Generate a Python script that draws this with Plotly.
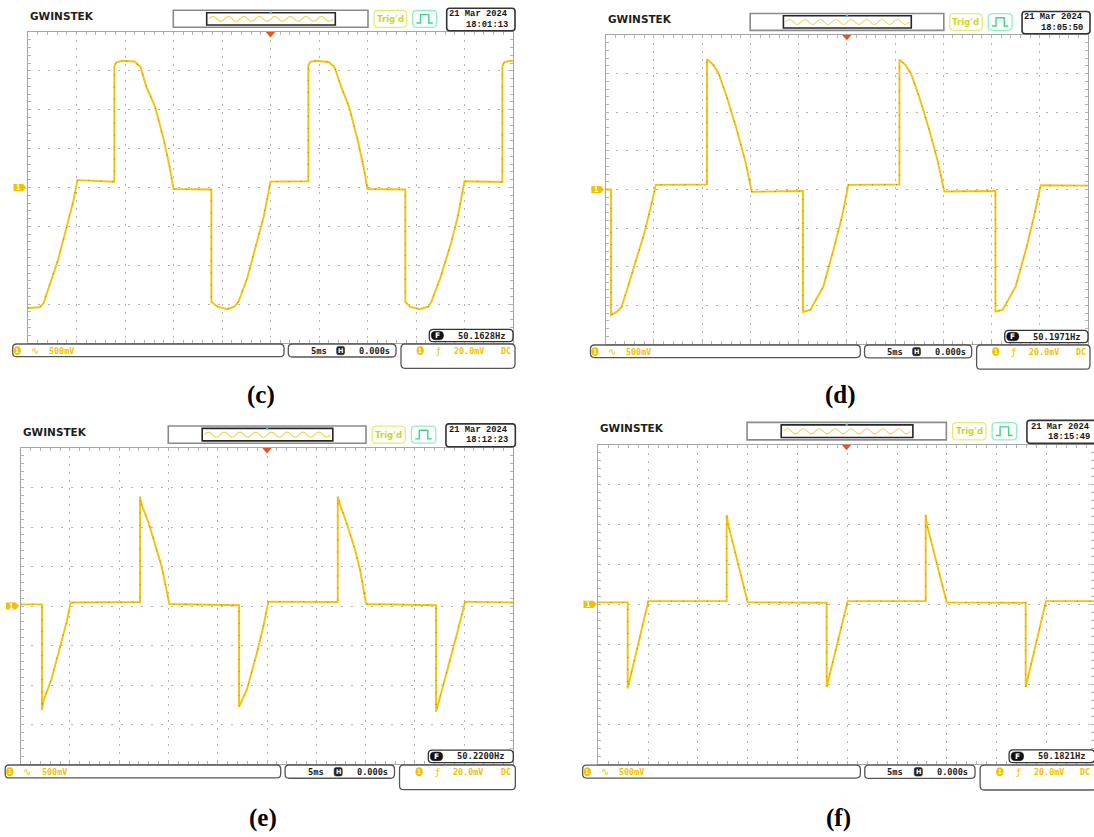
import plotly.graph_objects as go

# ---------------- data (time in ms, voltage in mV) ----------------
t_c = [-25.0, -23.8, -23.4, -22.7, -21.9, -21.0, -20.3, -19.9, -16.1, -16.1, -15.9, -15.3, -14.0, -13.4,
       -12.8, -11.9, -11.0, -10.4, -10.0, -6.1, -6.1, -5.5, -4.5, -3.7, -3.3, -2.4, -1.4, -0.7, 0.0, 3.9,
       3.9, 4.1, 4.7, 6.0, 6.6, 7.3, 8.1, 9.0, 9.6, 10.0, 13.9, 13.9, 14.4, 15.4, 16.3, 16.6, 17.5, 18.6,
       19.3, 20.0, 23.9, 23.9, 24.1, 24.7, 25.0]
v_c = [-1550, -1540, -1490, -1230, -930, -500, -160, 95, 75, 1560, 1610, 1630, 1620, 1550,
       1295, 1040, 610, 265, -20, -25, -1470, -1530, -1565, -1530, -1470, -1165, -715, -375, 75, 80,
       1570, 1615, 1630, 1615, 1550, 1290, 1035, 605, 260, -20, -25, -1470, -1535, -1565, -1530, -1465,
       -1165, -720, -380, 80, 70, 1560, 1610, 1630, 1625]

t_d = [-25.0, -24.45, -24.45, -23.85, -23.35, -22.15, -21.1, -20.4, -19.8, -14.5, -14.5, -13.85, -13.3,
       -12.45, -11.4, -10.55, -9.85, -4.55, -4.55, -3.8, -2.45, -1.4, -0.5, 0.15, 5.45, 5.45, 6.1, 6.65,
       7.5, 8.55, 9.4, 10.1, 15.4, 15.4, 16.15, 17.5, 18.55, 19.4, 20.1, 25.0]
v_d = [0, 0, -1625, -1585, -1520, -1045, -610, -265, 60, 65, 1685, 1615, 1505,
       1200, 770, 380, -30, -20, -1585, -1560, -1260, -785, -350, 60, 65, 1680, 1610, 1500,
       1200, 770, 380, -25, -20, -1580, -1560, -1255, -785, -350, 55, 50]

t_e = [-25.0, -22.84, -22.84, -22.71, -21.85, -21.01, -20.33, -19.92, -12.89, -12.89, -12.72, -12.05,
       -11.37, -10.69, -9.91, -2.84, -2.84, -2.06, -1.04, -0.37, 0.14, 7.18, 7.18, 7.42, 8.1, 8.94, 9.45,
       10.06, 17.16, 17.16, 17.57, 18.41, 19.26, 20.11, 25.0]
v_e = [20, 20, -1315, -1210, -915, -515, -200, 45, 50, 1385, 1280, 1065,
       795, 500, 25, 10, -1275, -1065, -600, -260, 55, 50, 1385, 1280, 1045, 710, 455,
       25, 10, -1340, -1150, -770, -365, 55, 45]

t_f = [-25.0, -22.05, -22.05, -19.98, -12.11, -12.11, -11.95, -10.0, -2.07, -2.07, 0.04, 7.87, 7.87,
       8.0, 9.98, 17.91, 17.91, 19.95, 24.8]
v_f = [25, 25, -1055, 40, 40, 1120, 995, 25, 20, -1035, 40, 40, 1120,
       995, 25, 20, -1035, 40, 40]

series_t = [t_c, t_d, t_e, t_f]
series_v = [v_c, v_d, v_e, v_f]
panel_labels = ["(c)", "(d)", "(e)", "(f)"]
freq_labels = ["50.1628Hz", "50.1971Hz", "50.2200Hz", "50.1821Hz"]
time_labels = ["18:01:13", "18:05:50", "18:12:23", "18:15:49"]
date_label = "21 Mar 2024"
volt_div_label = "500mV"
time_div_label = "5ms"
h_pos_label = "0.000s"
trig_level_label = "20.0mV"
coupling_label = "DC"
brand_label = "GWINSTEK"
trig_state_label = "Trig'd"

# ---------------- geometry (pixels) ----------------
W, H = 1094, 837
# grid box left, top, width, height, visible time end, caption x, caption y, decoration x-scale
GEOM = [
    (28.0, 32.0, 485.0, 311.0, 25.0, 261, 395, 1.0),
    (605.7, 35.0, 482.3, 309.0, 25.0, 840, 395, 482.3 / 485.0),
    (20.7, 448.0, 492.6, 316.0, 25.0, 263, 818, 492.6 / 485.0),
    (598.3, 444.7, 498.0, 319.3, 24.77, 838, 818, 1.0237),
]
XMAX_TEXT = 1092.0

YEL = "#f3c000"
WAVE = "#f5c20a"
GRID = "#b4b4b4"
MONO = "DejaVu Sans Mono"

shapes, annos = [], []


def P(x, y):
    return f"{x / W:.5f},{1 - y / H:.5f}"


def rr_path(x0, y0, x1, y1, r):
    return (f"M{P(x0 + r, y0)} L{P(x1 - r, y0)} Q{P(x1, y0)} {P(x1, y0 + r)} L{P(x1, y1 - r)} "
            f"Q{P(x1, y1)} {P(x1 - r, y1)} L{P(x0 + r, y1)} Q{P(x0, y1)} {P(x0, y1 - r)} "
            f"L{P(x0, y0 + r)} Q{P(x0, y0)} {P(x0 + r, y0)} Z")


def add_rr(a, b, r, color="#555", width=1.3, fill=None):
    shapes.append(dict(type="path", xref="paper", yref="paper", path=rr_path(a[0], a[1], b[0], b[1], r),
                       line=dict(color=color, width=width), fillcolor=fill if fill else "rgba(0,0,0,0)"))


def add_rect(a, b, color, width):
    shapes.append(dict(type="rect", xref="paper", yref="paper", x0=a[0] / W, x1=b[0] / W,
                       y0=1 - a[1] / H, y1=1 - b[1] / H, line=dict(color=color, width=width)))


def add_poly(pts, fill=None, color=None, width=1.4, close=True):
    d = "M" + " L".join(P(x, y) for x, y in pts) + (" Z" if close else "")
    shapes.append(dict(type="path", xref="paper", yref="paper", path=d,
                       fillcolor=fill if fill else "rgba(0,0,0,0)",
                       line=dict(color=color if color else "rgba(0,0,0,0)", width=width if color else 0)))


def add_circle(a, b, fill):
    shapes.append(dict(type="circle", xref="paper", yref="paper", x0=a[0] / W, x1=b[0] / W,
                       y0=1 - b[1] / H, y1=1 - a[1] / H, fillcolor=fill, line=dict(width=0)))


def txt(pt, s, size, color, anchor="left", family=MONO, weight="bold"):
    x = pt[0]
    if anchor == "right":
        x = min(x, XMAX_TEXT)
    annos.append(dict(xref="paper", yref="paper", x=x / W, y=1 - pt[1] / H, text=s, showarrow=False,
                      xanchor=anchor, yanchor="middle", font=dict(family=family, size=size, color=color,
                                                                 weight=weight)))


def deco(i, gx, gy, sx, sy):
    def T(x, y):
        return (gx + (x - 28) * sx, gy + (y - 32) * sy)

    # brand
    txt(T(28, 16), brand_label, 10.5, "#1e1e1e", family="DejaVu Sans")
    # memory bar
    add_rect(T(173.3, 10.3), T(368, 27.3), "#8a8a8a", 1.6)
    add_rect(T(206.7, 12.7), T(335.3, 25), "#262626", 1.6)
    x0, x1, cyc = 209.0, 333.0, 8
    hw = (x1 - x0) / (2 * cyc)
    d = "M" + P(*T(x0, 18.9))
    for k in range(2 * cyc):
        xa = x0 + k * hw
        yc = 18.9 + (-5.0 if k % 2 == 0 else 5.0)
        d += f" Q{P(*T(xa + hw / 2, yc))} {P(*T(xa + hw, 18.9))}"
    shapes.append(dict(type="path", xref="paper", yref="paper", path=d, line=dict(color="#f6cf55", width=1.1)))
    add_poly([T(269.5, 11.6), T(271.8, 11.6), T(271.8, 13.8), T(269.5, 13.8)], fill="#2cc6cf")
    # Trig'd
    add_rr(T(374, 10.5), T(406.7, 27.3), 4, color="#e4ec78", width=1.3)
    txt(T(390.3, 19), trig_state_label, 8.6, "#cdd42c", anchor="center", family="DejaVu Sans")
    # green acquire box
    add_rr(T(412.7, 10.5), T(436.7, 27.3), 4, color="#8ef0c2", width=1.3)
    add_poly([T(416.5, 23), T(420.5, 23), T(420.5, 14.6), T(428.8, 14.6), T(428.8, 23), T(432.8, 23)],
             color="#3fd38a", width=1.4, close=False)
    # date box
    add_rr(T(446.7, 8.3), T(515, 30.7), 3, color="#333", width=1.6)
    txt(T(510, 14.3), date_label, 8.8, "#161616", anchor="right", family="Liberation Mono")
    txt(T(510, 24.6), time_labels[i], 8.8, "#161616", anchor="right", family="Liberation Mono")
    # trigger position marker
    add_poly([T(265.8, 32), T(275.2, 32), T(270.5, 37.4)], fill="#f0501c")
    # channel ground marker
    add_poly([T(13.5, 184), T(23, 184), T(26.5, 187.5), T(23, 191), T(13.5, 191)], fill=YEL)
    txt(T(18.5, 187.6), "1", 7.5, "white", anchor="center")
    # frequency readout
    add_rr(T(429.3, 329.3), T(513, 341.7), 4, color="#333", width=1.3, fill="white")
    add_rr(T(431.2, 331.2), T(443.5, 339.8), 4.2, color="#111", width=0.5, fill="#111")
    txt(T(437.4, 335.6), "F", 7.5, "white", anchor="center", family="DejaVu Sans")
    txt(T(456, 335.6), freq_labels[i], 8.8, "#1e1e1e")
    # bottom status bar
    add_rr(T(12.7, 344), T(284, 356.7), 4, color="#555", width=1.3)
    add_circle(T(13.6, 346.2), T(20.8, 355), YEL)
    txt(T(17.2, 350.6), "1", 6.5, "white", anchor="center")
    txt(T(34.5, 350.3), "∿", 10, YEL, anchor="center", family="DejaVu Sans", weight="normal")
    txt(T(46.7, 350.6), volt_div_label, 8.4, YEL)
    add_rr(T(288.3, 344), T(396, 357), 4, color="#555", width=1.3)
    txt(T(308.5, 350.6), time_div_label, 8.8, "#222")
    add_rr(T(336.6, 346.4), T(344.6, 354.8), 2, color="#222", width=0.5, fill="#222")
    txt(T(340.6, 350.6), "H", 6.5, "white", anchor="center", family="DejaVu Sans")
    txt(T(356.7, 350.6), h_pos_label, 8.6, "#222")
    add_rr(T(401, 344), T(515, 368.3), 4, color="#555", width=1.3)
    add_circle(T(416.6, 346.2), T(423.8, 355), YEL)
    txt(T(420.2, 350.6), "1", 6.5, "white", anchor="center")
    txt(T(438.5, 350.6), "ƒ", 9.5, YEL, anchor="center", family="DejaVu Sans", weight="normal")
    txt(T(451.7, 350.6), trig_level_label, 8.4, YEL)
    txt(T(512.8, 350.6), coupling_label, 8.4, YEL, anchor="right")


fig = go.Figure()
layout = dict(width=W, height=H, margin=dict(l=0, r=0, t=0, b=0), autosize=False,
              paper_bgcolor="white", plot_bgcolor="white", showlegend=False)

for i, (gx, gy, gw, gh, xmax, cx, cy, dsx) in enumerate(GEOM):
    sfx = "" if i == 0 else str(i + 1)
    x_end = min(1.0, (gx + gw * (xmax + 25) / 50.0) / W)
    common = dict(showline=True, linecolor="#a6a6a6", linewidth=1, mirror="ticks", ticks="inside",
                  ticklen=3, tickcolor=GRID, showticklabels=False, zeroline=False, showgrid=True,
                  gridcolor=GRID, gridwidth=1, fixedrange=True)
    layout["xaxis" + sfx] = dict(common, domain=[gx / W, x_end], range=[-25, xmax], anchor="y" + sfx,
                                 tick0=0, dtick=5, griddash="2px,6px",
                                 minor=dict(dtick=1, tick0=0, ticks="inside", ticklen=3, tickcolor=GRID,
                                            showgrid=False))
    layout["yaxis" + sfx] = dict(common, domain=[1 - (gy + gh) / H, 1 - gy / H], range=[-2000, 2000],
                                 anchor="x" + sfx, tick0=0, dtick=500, griddash="2px,8px",
                                 minor=dict(dtick=100, tick0=0, ticks="inside", ticklen=3, tickcolor=GRID,
                                            showgrid=False))
    fig.add_trace(go.Scatter(x=series_t[i], y=series_v[i], mode="lines", xaxis="x" + sfx, yaxis="y" + sfx,
                             line=dict(color=WAVE, width=1.9), hoverinfo="skip"))
    fig.add_trace(go.Scatter(x=series_t[i], y=series_v[i], mode="lines", xaxis="x" + sfx, yaxis="y" + sfx,
                             line=dict(color="rgba(70,50,0,0.45)", width=1, dash="1px,11px"),
                             hoverinfo="skip"))
    deco(i, gx, gy, dsx, gh / 311.0)
    annos.append(dict(xref="paper", yref="paper", x=cx / W, y=1 - cy / H, text=panel_labels[i],
                      showarrow=False, xanchor="center", yanchor="middle",
                      font=dict(family="Liberation Serif", size=25, color="black", weight="bold")))

layout["shapes"] = shapes
layout["annotations"] = annos
fig.update_layout(**layout)
fig.write_html("out.html", config={"displayModeBar": False, "staticPlot": True},
               post_script="document.body.style.margin='0px';document.body.style.padding='0px';"
                           "document.body.style.overflow='hidden';")
